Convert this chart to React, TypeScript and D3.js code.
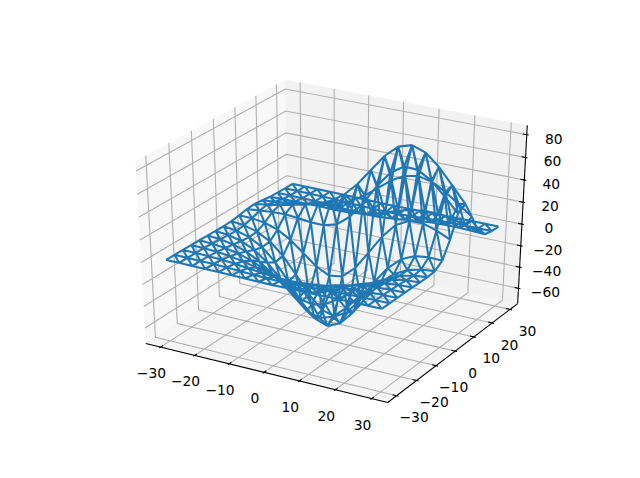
import React from "react";
import * as d3 from "d3";

const gridX = [-30, -26.25, -22.5, -18.75, -15, -11.25, -7.5, -3.75, 0, 3.75, 7.5, 11.25, 15, 18.75, 22.5, 26.25, 30];
const gridY = [-30, -26.25, -22.5, -18.75, -15, -11.25, -7.5, -3.75, 0, 3.75, 7.5, 11.25, 15, 18.75, 22.5, 26.25, 30];
// one row per gridY value, one column per gridX value
const zRows = [
  [0, 0, -.1, -.2, -.3, -.5, -.7, -.8, -.9, -.8, -.7, -.5, -.3, -.2, -.1, 0, 0],
  [0, -.1, -.2, -.4, -.8, -1.3, -1.9, -2.4, -2.5, -2.4, -1.9, -1.3, -.8, -.4, -.2, -.1, 0],
  [-.1, -.2, -.5, -1.1, -2.1, -3.4, -4.8, -5.9, -6.3, -5.9, -4.8, -3.4, -2.1, -1.1, -.5, -.2, -.1],
  [-.2, -.4, -1.1, -2.4, -4.5, -7.3, -10.4, -12.8, -13.7, -12.8, -10.4, -7.3, -4.5, -2.4, -1.1, -.4, -.2],
  [-.3, -.8, -2.1, -4.5, -8.4, -13.7, -19.5, -24.1, -25.8, -24.1, -19.5, -13.7, -8.4, -4.5, -2.1, -.8, -.3],
  [-.5, -1.3, -3.4, -7.3, -13.7, -22.4, -31.9, -39.4, -42.3, -39.4, -31.9, -22.4, -13.7, -7.3, -3.4, -1.3, -.5],
  [-.7, -1.9, -4.8, -10.3, -19.4, -31.8, -45.2, -55.8, -59.9, -55.8, -45.1, -31.7, -19.3, -10.2, -4.6, -1.8, -.6],
  [-.8, -2.2, -5.7, -12.4, -23.5, -38.5, -54.8, -67.6, -72.2, -66.9, -53.6, -37, -21.8, -10.7, -4.2, -1, .2],
  [-.5, -1.8, -5, -11.4, -22.3, -37, -52.8, -64.7, -68.1, -61, -45.9, -28, -12.3, -1.6, 3.8, 5.4, 5],
  [.6, .3, -1.3, -5.1, -12, -21.6, -31.4, -37.2, -35.3, -24.6, -8.1, 9, 21.9, 28.2, 28.4, 24.6, 19.1],
  [2, 3.1, 4.2, 4.6, 3.8, 2.4, 2.1, 5.5, 14.9, 29.9, 47, 61.4, 69.1, 68.6, 61.4, 50.2, 37.8],
  [2.5, 4.2, 6.5, 9.1, 11.9, 15.3, 20.2, 28.2, 40.1, 54.9, 69.5, 80, 83.6, 79.5, 69.3, 55.8, 41.8],
  [1.6, 2.6, 4.1, 5.8, 7.7, 9.9, 13.1, 18.2, 25.7, 34.9, 44, 50.4, 52.5, 49.8, 43.4, 35, 26.2],
  [.5, .8, 1.1, 1.3, 1.3, 1.1, 1.3, 2.3, 4.7, 8.2, 12.3, 15.6, 17.3, 17, 15.1, 12.3, 9.3],
  [.1, 0, -.1, -.3, -.9, -1.7, -2.4, -2.8, -2.6, -1.6, -.2, 1.3, 2.4, 2.8, 2.8, 2.4, 1.8],
  [0, -.1, -.2, -.4, -.7, -1.2, -1.6, -2, -2.1, -1.9, -1.4, -.8, -.3, 0, .2, .2, .2],
  [0, 0, -.1, -.1, -.3, -.5, -.6, -.8, -.9, -.8, -.6, -.4, -.3, -.1, 0, 0, 0],
];
const xTicks = [-30, -20, -10, 0, 10, 20, 30];
const yTicks = [-30, -20, -10, 0, 10, 20, 30];
const zTicks = [-60, -40, -20, 0, 20, 40, 60, 80];

const W = 640, H = 478;
const xLim: [number, number] = [-33, 33];
const yLim: [number, number] = [-33, 33];
const zLim: [number, number] = [-71.3, 85];
const sx = d3.scaleLinear().domain(xLim).range([0, 1]);
const sy = d3.scaleLinear().domain(yLim).range([0, 1]);
const sz = d3.scaleLinear().domain(zLim).range([0, 1]);

const elev = (30 * Math.PI) / 180, azim = (-60 * Math.PI) / 180, dist = 10;
const n = [Math.cos(azim) * Math.cos(elev), Math.sin(azim) * Math.cos(elev), Math.sin(elev)];
const E = [0.5 + dist * n[0], 0.5 + dist * n[1], 0.5 + dist * n[2]];
const ul = Math.hypot(n[1], n[0]);
const u = [-n[1] / ul, n[0] / ul, 0];
const v = [n[1] * u[2] - n[2] * u[1], n[2] * u[0] - n[0] * u[2], n[0] * u[1] - n[1] * u[0]];
const dot = (a: number[], b: number[]) => a[0] * b[0] + a[1] * b[1] + a[2] * b[2];
const px = d3.scaleLinear().domain([-0.095, 0.09]).range([80, 576]);
const py = d3.scaleLinear().domain([-0.095, 0.09]).range([H - 52.8, H - 52.8 - 369.6]);

type P = [number, number];
function proj(x: number, y: number, z: number): P {
  const d = [sx(x) - E[0], sy(y) - E[1], sz(z) - E[2]];
  const w = -dot(n, d);
  return [px(dot(u, d) / w), py(dot(v, d) / w)];
}
const line = d3.line<P>();
const pad = (l: [number, number]) => [l[0] - (l[1] - l[0]) / 48, l[1] + (l[1] - l[0]) / 48] as [number, number];
const [x0, x1] = pad(xLim), [y0, y1] = pad(yLim), [z0, z1] = pad(zLim);
const dX = (xLim[1] - xLim[0]) / 12, dY = (yLim[1] - yLim[0]) / 12;

const panes = [
  { pts: [proj(x0, y0, z0), proj(x0, y1, z0), proj(x0, y1, z1), proj(x0, y0, z1)], fill: "rgba(242,242,242,0.5)" },
  { pts: [proj(x0, y1, z0), proj(x1, y1, z0), proj(x1, y1, z1), proj(x0, y1, z1)], fill: "rgba(230,230,230,0.5)" },
  { pts: [proj(x0, y0, z0), proj(x1, y0, z0), proj(x1, y1, z0), proj(x0, y1, z0)], fill: "rgba(236,236,236,0.5)" },
];
const gridLines: P[][] = [
  ...xTicks.map((t) => [proj(t, y0, z0), proj(t, y1, z0), proj(t, y1, z1)]),
  ...yTicks.map((t) => [proj(x1, t, z0), proj(x0, t, z0), proj(x0, t, z1)]),
  ...zTicks.map((t) => [proj(x0, y0, t), proj(x0, y1, t), proj(x1, y1, t)]),
];
const axisLines: P[][] = [
  [proj(x0, y0, z0), proj(x1, y0, z0)],
  [proj(x1, y0, z0), proj(x1, y1, z0)],
  [proj(x1, y1, z0), proj(x1, y1, z1)],
];
const tickLines: P[][] = [
  ...xTicks.map((t) => [proj(t, y0 + 0.2 * dY, z0), proj(t, y0 - 0.1 * dY, z0)]),
  ...yTicks.map((t) => [proj(x1 - 0.2 * dX, t, z0), proj(x1 + 0.1 * dX, t, z0)]),
  ...zTicks.map((t) => [proj(x1 - 0.2 * dX, y1, t), proj(x1 + 0.1 * dX, y1, t)]),
];
const off = (p: P, dx: number, dy: number): P => [p[0] + dx, p[1] + dy];
const labels = [
  ...xTicks.map((t) => ({ t, p: off(proj(t, y0, z0), -9, 26) })),
  ...yTicks.map((t) => ({ t, p: off(proj(x1, t, z0), 17.5, 21.5) })),
  ...zTicks.map((t) => ({ t, p: off(proj(x1, y1, t), 27, 4) })),
];

// triangulated mesh: lines along x, along y, and the (+x, -y) diagonals
const node = (i: number, j: number) => proj(gridX[j], gridY[i], zRows[i][j]);
const meshSegs: P[][] = [];
const N = gridX.length - 1;
gridY.forEach((_, i) =>
  gridX.forEach((_, j) => {
    if (j < N) meshSegs.push([node(i, j), node(i, j + 1)]);
    if (i < N) meshSegs.push([node(i, j), node(i + 1, j)]);
    if (i > 0 && j < N) meshSegs.push([node(i, j), node(i - 1, j + 1)]);
  })
);
const fmt = (t: number) => String(t).replace("-", "\u2212");

export default function App() {
  return (
    <svg width={W} height={H} style={{ position: "absolute", left: 0, top: 0 }} fontFamily="DejaVu Sans" fontSize={13.89}>
      <rect width={W} height={H} fill="white" />
      {panes.map((p, i) => (
        <polygon key={i} points={p.pts.join(" ")} fill={p.fill} />
      ))}
      {gridLines.map((g, i) => (
        <path key={i} d={line(g)!} fill="none" stroke="#b0b0b0" strokeWidth={1.1} />
      ))}
      {axisLines.map((g, i) => (
        <path key={i} d={line(g)!} fill="none" stroke="black" strokeWidth={1.1} />
      ))}
      {tickLines.map((g, i) => (
        <path key={i} d={line(g)!} fill="none" stroke="black" strokeWidth={1.1} />
      ))}
      {labels.map((l, i) => (
        <text key={i} x={l.p[0]} y={l.p[1]} textAnchor="middle" dominantBaseline="central">
          {fmt(l.t)}
        </text>
      ))}
      <path d={meshSegs.map((s) => line(s)).join("")} fill="none" stroke="#1f77b4" strokeWidth={2.08} />
    </svg>
  );
}
